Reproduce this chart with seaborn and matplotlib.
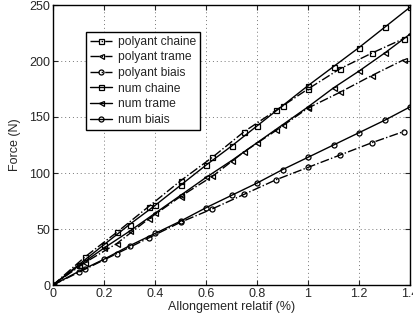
import numpy as np
import pandas as pd
import matplotlib
matplotlib.use("Agg")
import matplotlib.pyplot as plt
import seaborn as sns

# strain (%) sampling for measured (polyant) and numerical (num) curves
x_polyant = [0, 0.125, 0.25, 0.375, 0.5, 0.625, 0.75, 0.875, 1.0, 1.125, 1.25, 1.375]
x_num = [0, 0.1, 0.2, 0.3, 0.4, 0.5, 0.6, 0.7, 0.8, 0.9, 1.0, 1.1, 1.2, 1.3, 1.4]

polyant_chaine = [0, 25, 47, 70, 93, 114, 137, 156, 175, 193, 207, 220]
polyant_trame = [0, 20, 37, 59, 79, 97, 119, 138, 158, 172, 187, 201]
polyant_biais = [0, 14, 28, 42, 56, 68, 81, 94, 105, 116, 127, 137]

num_chaine = [0, 18, 36, 54, 71, 89, 107, 124, 142, 160, 178, 195, 212, 230, 248]
num_trame = [0, 17, 33, 48, 64, 80, 96, 111, 127, 143, 159, 176, 191, 207, 224]
num_biais = [0, 12, 23, 35, 46, 57, 69, 80, 91, 103, 114, 125, 136, 147, 159]

series = [
    ("polyant chaine", x_polyant, polyant_chaine, "-.", "s"),
    ("polyant trame", x_polyant, polyant_trame, "-.", "<"),
    ("polyant biais", x_polyant, polyant_biais, "-.", "o"),
    ("num chaine", x_num, num_chaine, "-", "s"),
    ("num trame", x_num, num_trame, "-", "<"),
    ("num biais", x_num, num_biais, "-", "o"),
]

sns.set_style("ticks")
plt.rcParams['font.family'] = ['Liberation Sans', 'DejaVu Sans']

fig = plt.figure(figsize=(4.14, 3.22), dpi=100)
ax = fig.add_axes([53 / 414, 37 / 322, 357 / 414, 280 / 322])

for name, xs, ys, ls, mk in series:
    df = pd.DataFrame({"x": xs, "y": ys})
    sns.lineplot(data=df, x="x", y="y", ax=ax, color="black", linestyle=ls,
                 linewidth=1.0, marker=mk, markersize=3.6, markerfacecolor="none",
                 markeredgecolor="black", markeredgewidth=0.9, label=name)

ax.set_xlim(0, 1.4)
ax.set_ylim(0, 250)
xt = [0, 0.2, 0.4, 0.6, 0.8, 1.0, 1.2, 1.4]
yt = [0, 50, 100, 150, 200, 250]
ax.set_xticks(xt)
ax.set_xticklabels(["%g" % v for v in xt])
ax.set_yticks(yt)
ax.set_yticklabels(["%g" % v for v in yt])
ax.tick_params(direction="in", top=True, right=True, labelsize=9, length=3.5, pad=2)
ax.grid(True, linestyle=(0, (1, 3)), color="#777777", linewidth=0.7)
for s in ax.spines.values():
    s.set_color("black")
    s.set_linewidth(1.0)

ax.set_xlabel("Allongement relatif (%)", fontsize=9, labelpad=1)
ax.set_ylabel("Force (N)", fontsize=9, labelpad=6)

leg = ax.legend(loc="upper left", bbox_to_anchor=(0.092, 0.905), fontsize=8.7,
                frameon=True, fancybox=False, edgecolor="black", framealpha=1,
                handlelength=1.8, handletextpad=0.5, labelspacing=0.3,
                borderpad=0.35, borderaxespad=0)
leg.get_frame().set_linewidth(1.0)

fig.savefig("out.png", dpi=100)
